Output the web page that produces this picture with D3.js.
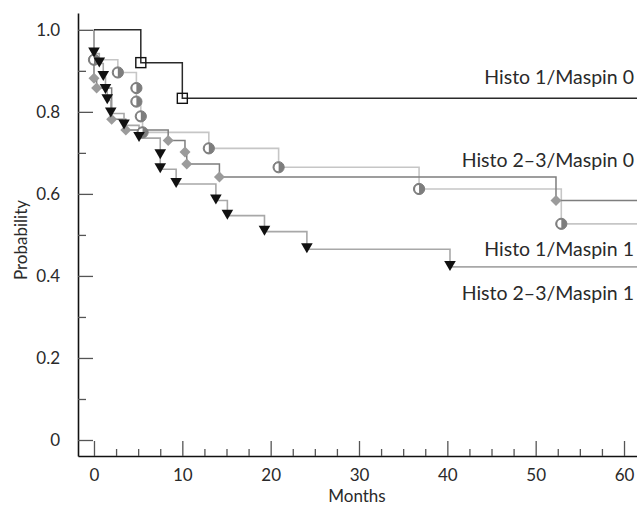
<!DOCTYPE html>
<html>
<head>
<meta charset="utf-8">
<script src="https://cdn.jsdelivr.net/npm/d3@7"></script>
<style>
  html, body { margin: 0; padding: 0; background: #fff; }
  svg { display: block; }
  text { font-family: Lato, "Open Sans", sans-serif; fill: #2a2a2a; font-weight: 400; }
</style>
</head>
<body>
<svg id="chart" width="637" height="506"></svg>
<script>
// ---------------- data ----------------
const monthTicks = [0, 10, 20, 30, 40, 50, 60];
const monthMinorTicks = [2.5, 5, 7.5, 12.5, 15, 17.5, 22.5, 25, 27.5, 32.5, 35, 37.5, 42.5, 45, 47.5, 52.5, 55, 57.5];
const probTicks = [0, 0.2, 0.4, 0.6, 0.8, 1.0];
const probTickLabels = ["0", "0.2", "0.4", "0.6", "0.8", "1.0"];
const probMinorTicks = [0.1, 0.3, 0.5, 0.7, 0.9];

const seriesNames = ["Histo 1/Maspin 0", "Histo 2\u20133/Maspin 0", "Histo 1/Maspin 1", "Histo 2\u20133/Maspin 1"];

// Histo 1/Maspin 0 (squares)
const h1m0Times = [5.3, 10.0];
const h1m0Surv  = [0.920, 0.833];
// Histo 2-3/Maspin 0 (diamonds)
const h23m0Times = [0, 0.3, 2.0, 3.6, 8.4, 10.3, 10.5, 14.2, 52.3];
const h23m0Surv  = [0.882, 0.858, 0.782, 0.756, 0.730, 0.702, 0.673, 0.641, 0.584];
// Histo 1/Maspin 1 (half-filled circles)
const h1m1Times = [0, 2.7, 4.8, 4.8, 5.3, 5.5, 13.0, 20.9, 36.8, 52.9];
const h1m1Surv  = [0.927, 0.896, 0.858, 0.825, 0.789, 0.750, 0.711, 0.665, 0.612, 0.527];
// Histo 2-3/Maspin 1 (filled triangles)
const h23m1Times = [0, 0.6, 1.05, 1.3, 1.5, 1.9, 3.4, 5.1, 7.5, 7.5, 9.3, 13.8, 15.1, 19.3, 24.1, 40.3];
const h23m1Surv  = [0.942, 0.918, 0.885, 0.853, 0.828, 0.796, 0.767, 0.736, 0.694, 0.660, 0.624, 0.584, 0.547, 0.508, 0.465, 0.422];

// ---------------- layout ----------------
const svg = d3.select("#chart");
const xMin = -1.81, xMax = 61.47;
const x = d3.scaleLinear().domain([xMin, xMax]).range([78, 637]);
const y = d3.scaleLinear().domain([-0.039, 1.041]).range([456, 13]);

// axes
svg.append("g").attr("transform", "translate(0,456)")
  .call(d3.axisBottom(x).tickValues(monthTicks).tickSize(-15).tickSizeOuter(0).tickPadding(13).tickFormat(d3.format("d")));
const xMinor = svg.append("g").attr("transform", "translate(0,456)")
  .call(d3.axisBottom(x).tickValues(monthMinorTicks).tickSize(-7).tickSizeOuter(0).tickFormat(""));
xMinor.select(".domain").remove();

svg.append("g").attr("transform", "translate(78,0)")
  .call(d3.axisLeft(y).tickValues(probTicks).tickSize(-15).tickSizeOuter(0).tickPadding(18)
    .tickFormat((d, i) => probTickLabels[i]));
const yMinor = svg.append("g").attr("transform", "translate(78,0)")
  .call(d3.axisLeft(y).tickValues(probMinorTicks).tickSize(-8).tickSizeOuter(0).tickFormat(""));
yMinor.select(".domain").remove();

svg.selectAll(".domain").attr("stroke", "#111").attr("stroke-width", 1.6);
svg.selectAll(".tick line").attr("stroke", "#555").attr("stroke-width", 1.3);
svg.selectAll(".tick text").attr("font-size", 17).attr("fill", "#2a2a2a")
  .attr("font-family", "Lato, 'Open Sans', sans-serif").attr("font-weight", 400);

svg.append("text").attr("x", 357).attr("y", 502).attr("text-anchor", "middle")
  .attr("font-size", 17).text("Months");
svg.append("text").attr("transform", "translate(27,240) rotate(-90)").attr("text-anchor", "middle")
  .attr("font-size", 17).text("Probability");

// ---------------- curves ----------------
const stepLine = d3.line().x(d => x(d[0])).y(d => y(d[1])).curve(d3.curveStepAfter);
function stepPoints(times, surv) {
  const pts = [[0, 1]];
  times.forEach((t, i) => pts.push([t, surv[i]]));
  pts.push([xMax, surv[surv.length - 1]]);
  return pts;
}
const series = [
  { times: h1m1Times,  surv: h1m1Surv,  color: "#c6c6c6", width: 1.6, marker: "circle" },
  { times: h23m0Times, surv: h23m0Surv, color: "#7e7e7e", width: 1.5, marker: "diamond" },
  { times: h23m1Times, surv: h23m1Surv, color: "#a8a8a8", width: 1.6, marker: "triangle" },
  { times: h1m0Times,  surv: h1m0Surv,  color: "#2a2a2a", width: 1.5, marker: "square" }
];

series.forEach(s => {
  svg.append("path").datum(stepPoints(s.times, s.surv))
    .attr("d", stepLine).attr("fill", "none")
    .attr("stroke", s.color).attr("stroke-width", s.width);
});

series.forEach(s => {
  const g = svg.append("g");
  const pts = s.times.map((t, i) => [x(t), y(s.surv[i])]);
  pts.forEach(([px, py]) => {
    if (s.marker === "circle") {
      g.append("circle").attr("cx", px).attr("cy", py).attr("r", 5.6)
        .attr("fill", "#7d7d7d").attr("stroke", "#7d7d7d").attr("stroke-width", 1);
      g.append("path").attr("d", `M${px},${py - 4} A4,4 0 0,0 ${px},${py + 4} Z`).attr("fill", "#fff");
    } else if (s.marker === "diamond") {
      g.append("path").attr("d", `M${px},${py - 5.5} L${px + 5.5},${py} L${px},${py + 5.5} L${px - 5.5},${py} Z`)
        .attr("fill", "#9b9b9b");
    } else if (s.marker === "triangle") {
      g.append("path").attr("d", `M${px - 5.8},${py - 6} L${px + 5.8},${py - 6} L${px},${py + 4} Z`)
        .attr("fill", "#111");
    } else if (s.marker === "square") {
      g.append("rect").attr("x", px - 5).attr("y", py - 5).attr("width", 10).attr("height", 10)
        .attr("fill", "none").attr("stroke", "#111").attr("stroke-width", 1.4);
    }
  });
});

// ---------------- labels ----------------
const labelBaselines = [84, 167, 256, 300];
seriesNames.forEach((name, i) => {
  svg.append("text").attr("x", 634).attr("y", labelBaselines[i]).attr("text-anchor", "end")
    .attr("font-size", 19.5).text(name);
});
</script>
</body>
</html>
